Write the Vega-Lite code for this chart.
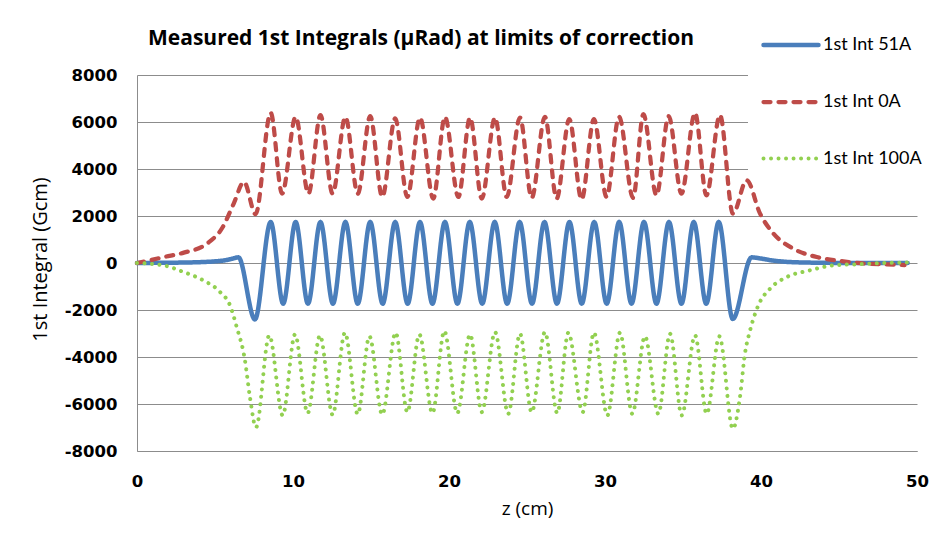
{
  "$schema": "https://vega.github.io/schema/vega-lite/v6.json",
  "width": 780,
  "height": 376,
  "autosize": {"type": "none"},
  "padding": {"left": 137, "top": 75, "right": 26, "bottom": 85},
  "background": "white",
  "title": {
    "text": "Measured 1st Integrals (µRad) at limits of correction",
    "anchor": "start",
    "frame": "group",
    "dx": 11,
    "dy": 59,
    "font": "Open Sans",
    "fontSize": 21,
    "fontWeight": "bold",
    "color": "black",
    "baseline": "bottom",
    "offset": 0
  },
  "datasets": {
    "a": [
      {"s": "1st Int 51A", "z": 0, "v": 0},
      {"s": "1st Int 51A", "z": 1, "v": 5},
      {"s": "1st Int 51A", "z": 2, "v": 10},
      {"s": "1st Int 51A", "z": 3, "v": 20},
      {"s": "1st Int 51A", "z": 4, "v": 35},
      {"s": "1st Int 51A", "z": 5, "v": 70},
      {"s": "1st Int 51A", "z": 5.6, "v": 110},
      {"s": "1st Int 51A", "z": 6.1, "v": 180},
      {"s": "1st Int 51A", "z": 6.5, "v": 240},
      {"s": "1st Int 51A", "z": 7.56, "v": -2400},
      {"s": "1st Int 51A", "z": 8.57, "v": 1740},
      {"s": "1st Int 51A", "z": 9.37, "v": -1730},
      {"s": "1st Int 51A", "z": 10.17, "v": 1740},
      {"s": "1st Int 51A", "z": 10.96, "v": -1730},
      {"s": "1st Int 51A", "z": 11.76, "v": 1740},
      {"s": "1st Int 51A", "z": 12.56, "v": -1730},
      {"s": "1st Int 51A", "z": 13.36, "v": 1740},
      {"s": "1st Int 51A", "z": 14.15, "v": -1730},
      {"s": "1st Int 51A", "z": 14.95, "v": 1740},
      {"s": "1st Int 51A", "z": 15.75, "v": -1730},
      {"s": "1st Int 51A", "z": 16.55, "v": 1740},
      {"s": "1st Int 51A", "z": 17.35, "v": -1730},
      {"s": "1st Int 51A", "z": 18.14, "v": 1740},
      {"s": "1st Int 51A", "z": 18.94, "v": -1730},
      {"s": "1st Int 51A", "z": 19.74, "v": 1740},
      {"s": "1st Int 51A", "z": 20.54, "v": -1730},
      {"s": "1st Int 51A", "z": 21.33, "v": 1740},
      {"s": "1st Int 51A", "z": 22.13, "v": -1730},
      {"s": "1st Int 51A", "z": 22.93, "v": 1740},
      {"s": "1st Int 51A", "z": 23.73, "v": -1730},
      {"s": "1st Int 51A", "z": 24.53, "v": 1740},
      {"s": "1st Int 51A", "z": 25.32, "v": -1730},
      {"s": "1st Int 51A", "z": 26.12, "v": 1740},
      {"s": "1st Int 51A", "z": 26.92, "v": -1730},
      {"s": "1st Int 51A", "z": 27.72, "v": 1740},
      {"s": "1st Int 51A", "z": 28.51, "v": -1730},
      {"s": "1st Int 51A", "z": 29.31, "v": 1740},
      {"s": "1st Int 51A", "z": 30.11, "v": -1730},
      {"s": "1st Int 51A", "z": 30.91, "v": 1740},
      {"s": "1st Int 51A", "z": 31.7, "v": -1730},
      {"s": "1st Int 51A", "z": 32.5, "v": 1740},
      {"s": "1st Int 51A", "z": 33.3, "v": -1730},
      {"s": "1st Int 51A", "z": 34.1, "v": 1740},
      {"s": "1st Int 51A", "z": 34.9, "v": -1730},
      {"s": "1st Int 51A", "z": 35.69, "v": 1740},
      {"s": "1st Int 51A", "z": 36.49, "v": -1730},
      {"s": "1st Int 51A", "z": 37.29, "v": 1740},
      {"s": "1st Int 51A", "z": 38.19, "v": -2380},
      {"s": "1st Int 51A", "z": 39.4, "v": 240},
      {"s": "1st Int 51A", "z": 40.0, "v": 190},
      {"s": "1st Int 51A", "z": 40.7, "v": 110},
      {"s": "1st Int 51A", "z": 41.4, "v": 60},
      {"s": "1st Int 51A", "z": 42.5, "v": 25},
      {"s": "1st Int 51A", "z": 44, "v": 10},
      {"s": "1st Int 51A", "z": 46, "v": 0},
      {"s": "1st Int 51A", "z": 49.4, "v": 0},

      {"s": "1st Int 0A", "z": 0, "v": 0},
      {"s": "1st Int 0A", "z": 0.8, "v": 110},
      {"s": "1st Int 0A", "z": 1.7, "v": 250},
      {"s": "1st Int 0A", "z": 3.0, "v": 440},
      {"s": "1st Int 0A", "z": 4.5, "v": 830},
      {"s": "1st Int 0A", "z": 5.5, "v": 1530},
      {"s": "1st Int 0A", "z": 6.2, "v": 2530},
      {"s": "1st Int 0A", "z": 6.86, "v": 3450},
      {"s": "1st Int 0A", "z": 7.6, "v": 2080},
      {"s": "1st Int 0A", "z": 8.57, "v": 6390},
      {"s": "1st Int 0A", "z": 9.3, "v": 2950},
      {"s": "1st Int 0A", "z": 10.17, "v": 6220},
      {"s": "1st Int 0A", "z": 10.99, "v": 2950},
      {"s": "1st Int 0A", "z": 11.76, "v": 6290},
      {"s": "1st Int 0A", "z": 12.54, "v": 2950},
      {"s": "1st Int 0A", "z": 13.36, "v": 6220},
      {"s": "1st Int 0A", "z": 14.15, "v": 2950},
      {"s": "1st Int 0A", "z": 14.95, "v": 6250},
      {"s": "1st Int 0A", "z": 15.72, "v": 2810},
      {"s": "1st Int 0A", "z": 16.55, "v": 6150},
      {"s": "1st Int 0A", "z": 17.33, "v": 2810},
      {"s": "1st Int 0A", "z": 18.14, "v": 6190},
      {"s": "1st Int 0A", "z": 18.99, "v": 2740},
      {"s": "1st Int 0A", "z": 19.74, "v": 6220},
      {"s": "1st Int 0A", "z": 20.6, "v": 2810},
      {"s": "1st Int 0A", "z": 21.35, "v": 6190},
      {"s": "1st Int 0A", "z": 22.1, "v": 2740},
      {"s": "1st Int 0A", "z": 22.95, "v": 6190},
      {"s": "1st Int 0A", "z": 23.7, "v": 2810},
      {"s": "1st Int 0A", "z": 24.55, "v": 6190},
      {"s": "1st Int 0A", "z": 25.3, "v": 2770},
      {"s": "1st Int 0A", "z": 26.15, "v": 6220},
      {"s": "1st Int 0A", "z": 26.9, "v": 2740},
      {"s": "1st Int 0A", "z": 27.71, "v": 6120},
      {"s": "1st Int 0A", "z": 28.5, "v": 2700},
      {"s": "1st Int 0A", "z": 29.29, "v": 6120},
      {"s": "1st Int 0A", "z": 30.1, "v": 2810},
      {"s": "1st Int 0A", "z": 30.9, "v": 6220},
      {"s": "1st Int 0A", "z": 31.8, "v": 2770},
      {"s": "1st Int 0A", "z": 32.46, "v": 6330},
      {"s": "1st Int 0A", "z": 33.3, "v": 2880},
      {"s": "1st Int 0A", "z": 34.08, "v": 6250},
      {"s": "1st Int 0A", "z": 34.9, "v": 2950},
      {"s": "1st Int 0A", "z": 35.77, "v": 6390},
      {"s": "1st Int 0A", "z": 36.5, "v": 2880},
      {"s": "1st Int 0A", "z": 37.37, "v": 6300},
      {"s": "1st Int 0A", "z": 38.2, "v": 2100},
      {"s": "1st Int 0A", "z": 39.08, "v": 3520},
      {"s": "1st Int 0A", "z": 39.94, "v": 2100},
      {"s": "1st Int 0A", "z": 40.8, "v": 1250},
      {"s": "1st Int 0A", "z": 42.07, "v": 610},
      {"s": "1st Int 0A", "z": 43.57, "v": 255},
      {"s": "1st Int 0A", "z": 45.28, "v": 70},
      {"s": "1st Int 0A", "z": 46.77, "v": -30},
      {"s": "1st Int 0A", "z": 48.06, "v": -60},
      {"s": "1st Int 0A", "z": 49.2, "v": -90},

      {"s": "1st Int 100A", "z": 0, "v": 0},
      {"s": "1st Int 100A", "z": 1.69, "v": -100},
      {"s": "1st Int 100A", "z": 2.97, "v": -380},
      {"s": "1st Int 100A", "z": 4.25, "v": -740},
      {"s": "1st Int 100A", "z": 5.32, "v": -1230},
      {"s": "1st Int 100A", "z": 5.96, "v": -1800},
      {"s": "1st Int 100A", "z": 6.39, "v": -2720},
      {"s": "1st Int 100A", "z": 6.92, "v": -4140},
      {"s": "1st Int 100A", "z": 7.24, "v": -5710},
      {"s": "1st Int 100A", "z": 7.63, "v": -6990},
      {"s": "1st Int 100A", "z": 8.48, "v": -3080},
      {"s": "1st Int 100A", "z": 9.34, "v": -6485},
      {"s": "1st Int 100A", "z": 10.13, "v": -3040},
      {"s": "1st Int 100A", "z": 10.94, "v": -6390},
      {"s": "1st Int 100A", "z": 11.73, "v": -3080},
      {"s": "1st Int 100A", "z": 12.54, "v": -6460},
      {"s": "1st Int 100A", "z": 13.33, "v": -2965},
      {"s": "1st Int 100A", "z": 14.15, "v": -6430},
      {"s": "1st Int 100A", "z": 14.9, "v": -3120},
      {"s": "1st Int 100A", "z": 15.72, "v": -6450},
      {"s": "1st Int 100A", "z": 16.58, "v": -2965},
      {"s": "1st Int 100A", "z": 17.33, "v": -6345},
      {"s": "1st Int 100A", "z": 18.1, "v": -3040},
      {"s": "1st Int 100A", "z": 18.94, "v": -6390},
      {"s": "1st Int 100A", "z": 19.7, "v": -2895},
      {"s": "1st Int 100A", "z": 20.53, "v": -6390},
      {"s": "1st Int 100A", "z": 21.35, "v": -3040},
      {"s": "1st Int 100A", "z": 22.1, "v": -6345},
      {"s": "1st Int 100A", "z": 22.95, "v": -2940},
      {"s": "1st Int 100A", "z": 23.8, "v": -6415},
      {"s": "1st Int 100A", "z": 24.55, "v": -3010},
      {"s": "1st Int 100A", "z": 25.3, "v": -6345},
      {"s": "1st Int 100A", "z": 26.15, "v": -2940},
      {"s": "1st Int 100A", "z": 26.94, "v": -6390},
      {"s": "1st Int 100A", "z": 27.65, "v": -2965},
      {"s": "1st Int 100A", "z": 28.57, "v": -6345},
      {"s": "1st Int 100A", "z": 29.29, "v": -2965},
      {"s": "1st Int 100A", "z": 30.15, "v": -6485},
      {"s": "1st Int 100A", "z": 30.96, "v": -2965},
      {"s": "1st Int 100A", "z": 31.75, "v": -6415},
      {"s": "1st Int 100A", "z": 32.56, "v": -3120},
      {"s": "1st Int 100A", "z": 33.42, "v": -6415},
      {"s": "1st Int 100A", "z": 34.17, "v": -3010},
      {"s": "1st Int 100A", "z": 34.92, "v": -6485},
      {"s": "1st Int 100A", "z": 35.77, "v": -3080},
      {"s": "1st Int 100A", "z": 36.52, "v": -6415},
      {"s": "1st Int 100A", "z": 37.33, "v": -3120},
      {"s": "1st Int 100A", "z": 38.2, "v": -7050},
      {"s": "1st Int 100A", "z": 38.65, "v": -5710},
      {"s": "1st Int 100A", "z": 38.97, "v": -3860},
      {"s": "1st Int 100A", "z": 39.3, "v": -2870},
      {"s": "1st Int 100A", "z": 39.83, "v": -1800},
      {"s": "1st Int 100A", "z": 40.58, "v": -1090},
      {"s": "1st Int 100A", "z": 41.65, "v": -600},
      {"s": "1st Int 100A", "z": 43.14, "v": -310},
      {"s": "1st Int 100A", "z": 44.63, "v": -100},
      {"s": "1st Int 100A", "z": 46.35, "v": -50},
      {"s": "1st Int 100A", "z": 48, "v": 0},
      {"s": "1st Int 100A", "z": 49.4, "v": 20}
    ]
  },
  "data": {"name": "a"},
  "mark": {"type": "line", "interpolate": "monotone", "strokeCap": "round", "strokeJoin": "round"},
  "encoding": {
    "x": {
      "field": "z", "type": "quantitative",
      "scale": {"domain": [0, 50], "nice": false},
      "axis": {
        "values": [0, 10, 20, 30, 40, 50],
        "grid": false, "ticks": false, "tickSize": 0,
        "domain": true, "domainColor": "#8c8c8c", "domainWidth": 1,
        "labelFont": "DejaVu Sans", "labelFontSize": 16.5, "labelFontWeight": "bold", "labelColor": "black",
        "labelPadding": 22, "labelFlush": false,
        "title": "z (cm)", "titleFont": "Open Sans", "titleFontSize": 19, "titleFontWeight": "normal", "titleColor": "black",
        "titleY": 57, "titleBaseline": "middle"
      }
    },
    "y": {
      "field": "v", "type": "quantitative",
      "scale": {"domain": [-8000, 8000], "nice": false},
      "axis": {
        "values": [-8000, -6000, -4000, -2000, 0, 2000, 4000, 6000, 8000],
        "labelExpr": "'' + datum.value",
        "grid": true, "gridColor": "#8c8c8c", "gridWidth": 1,
        "ticks": false, "tickSize": 0,
        "domain": true, "domainColor": "#8c8c8c", "domainWidth": 1,
        "labelFont": "DejaVu Sans", "labelFontSize": 16.5, "labelFontWeight": "bold", "labelColor": "black",
        "labelPadding": 20,
        "title": "1st Integral (Gcm)", "titleFont": "Open Sans", "titleFontSize": 20, "titleFontWeight": "normal", "titleColor": "black",
        "titleAngle": -90, "titleX": -97, "titleY": 184, "titleAlign": "center", "titleBaseline": "middle"
      }
    },
    "color": {
      "field": "s", "type": "nominal",
      "scale": {"domain": ["1st Int 51A", "1st Int 0A", "1st Int 100A"], "range": ["#4A7EBB", "#BE4B48", "#92D050"]},
      "legend": {
        "title": null, "orient": "none", "legendX": 611, "legendY": -64,
        "fillColor": "white", "padding": 4, "symbolOffset": 9,
        "symbolType": "stroke", "symbolSize": 3025, "symbolStrokeWidth": 4,
        "labelFont": "Lato", "labelFontSize": 18, "labelColor": "black", "labelOffset": 2,
        "rowPadding": 18,
        "encode": {"symbols": {"update": {"strokeCap": {"value": "round"}}}}
      }
    },
    "strokeDash": {
      "field": "s", "type": "nominal",
      "scale": {"domain": ["1st Int 51A", "1st Int 0A", "1st Int 100A"], "range": [[1, 0], [7, 8], [0.01, 7.5]]},
      "legend": null
    },
    "strokeWidth": {
      "field": "s", "type": "nominal",
      "scale": {"domain": ["1st Int 51A", "1st Int 0A", "1st Int 100A"], "range": [4.5, 4, 3.4]},
      "legend": null
    }
  },
  "config": {
    "view": {"stroke": null},
    "font": "Lato"
  }
}
